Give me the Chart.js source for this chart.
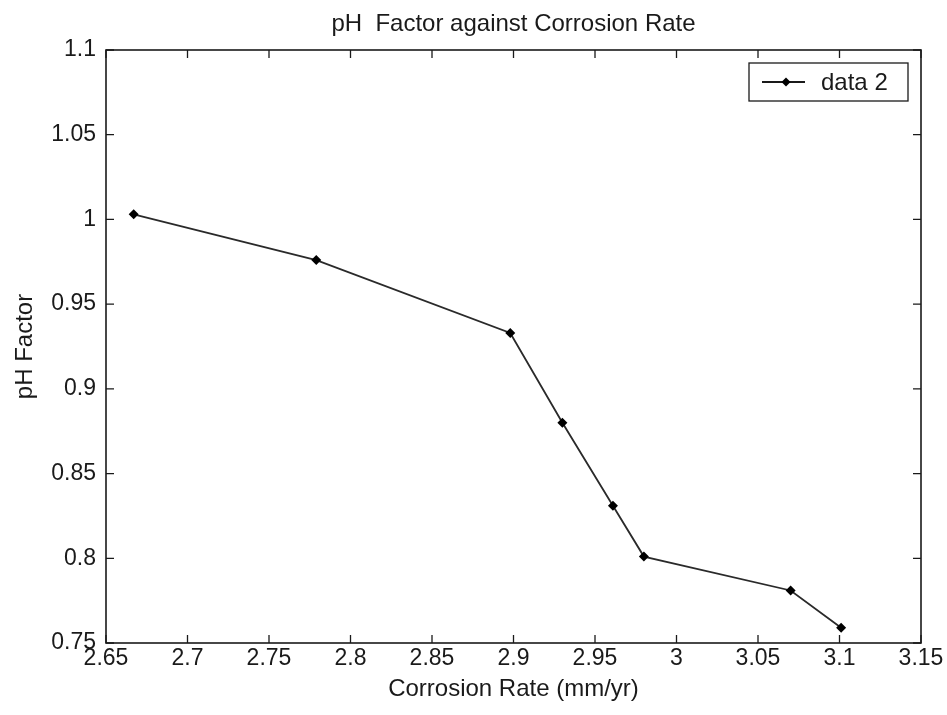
<!DOCTYPE html>
<html>
<head>
<meta charset="utf-8">
<script src="https://cdn.jsdelivr.net/npm/chart.js@4.4.1/dist/chart.umd.min.js"></script>
<style>
  html, body { margin: 0; padding: 0; background: #fff; }
  #wrap { width: 947px; height: 715px; }
</style>
</head>
<body>
<div id="wrap"><canvas id="c" width="947" height="715"></canvas></div>
<script>
// ---- data ----
const corrosionRate = [2.667, 2.779, 2.898, 2.930, 2.961, 2.980, 3.070, 3.101];
const phFactor      = [1.003, 0.976, 0.933, 0.880, 0.831, 0.801, 0.781, 0.759];
const seriesLabel = 'data 2';
const chartTitle = 'pH  Factor against Corrosion Rate';
const xTitle = 'Corrosion Rate (mm/yr)';
const yTitle = 'pH Factor';
const xTickValues = [2.65, 2.7, 2.75, 2.8, 2.85, 2.9, 2.95, 3, 3.05, 3.1, 3.15];
const yTickValues = [0.75, 0.8, 0.85, 0.9, 0.95, 1, 1.05, 1.1];

const FONT = "'Liberation Sans', Arial, sans-serif";
const INK = '#1a1a1a';

const fmt = v => String(Number(Number(v).toFixed(2)));

const frame = {
  id: 'frame',
  afterDraw(chart) {
    const ctx = chart.ctx, a = chart.chartArea;
    const xs = chart.scales.x, ys = chart.scales.y;
    ctx.save();
    // title centred over the plot area
    ctx.fillStyle = INK;
    ctx.font = '24px ' + FONT;
    ctx.textAlign = 'center';
    ctx.textBaseline = 'middle';
    ctx.fillText(chartTitle, (a.left + a.right) / 2, 24);

    ctx.strokeStyle = INK;
    ctx.lineWidth = 1.6;
    ctx.strokeRect(a.left, a.top, a.right - a.left, a.bottom - a.top);
    ctx.lineWidth = 1.3;
    const tl = 8;
    ctx.beginPath();
    xTickValues.forEach(v => {
      const px = xs.getPixelForValue(v);
      ctx.moveTo(px, a.bottom); ctx.lineTo(px, a.bottom - tl);
      ctx.moveTo(px, a.top); ctx.lineTo(px, a.top + tl);
    });
    yTickValues.forEach(v => {
      const py = ys.getPixelForValue(v);
      ctx.moveTo(a.left, py); ctx.lineTo(a.left + tl, py);
      ctx.moveTo(a.right, py); ctx.lineTo(a.right - tl, py);
    });
    ctx.stroke();

    // legend box (inside top-right)
    const bx = 749, by = 63, bw = 159, bh = 38;
    ctx.fillStyle = '#fff';
    ctx.fillRect(bx, by, bw, bh);
    ctx.lineWidth = 1.3;
    ctx.strokeStyle = INK;
    ctx.strokeRect(bx, by, bw, bh);
    const ly = by + bh / 2;
    ctx.lineWidth = 1.8;
    ctx.beginPath();
    ctx.moveTo(762, ly); ctx.lineTo(805, ly);
    ctx.stroke();
    ctx.fillStyle = '#000';
    ctx.beginPath();
    ctx.moveTo(786, ly - 4.5); ctx.lineTo(790.5, ly); ctx.lineTo(786, ly + 4.5); ctx.lineTo(781.5, ly);
    ctx.closePath(); ctx.fill();
    ctx.fillStyle = INK;
    ctx.font = '24px ' + FONT;
    ctx.textAlign = 'left';
    ctx.fillText(chart.data.datasets[0].label, 821, ly + 1);
    ctx.restore();
  }
};

new Chart(document.getElementById('c'), {
  type: 'line',
  data: {
    datasets: [{
      label: seriesLabel,
      data: corrosionRate.map((x, i) => ({ x: x, y: phFactor[i] })),
      borderColor: '#2a2a2a',
      borderWidth: 1.8,
      pointStyle: 'rectRot',
      pointRadius: 5,
      pointBackgroundColor: '#000',
      pointBorderColor: '#000',
      pointBorderWidth: 0,
      tension: 0,
      fill: false
    }]
  },
  options: {
    responsive: false,
    animation: false,
    devicePixelRatio: 1,
    layout: { padding: { left: 0, right: 26, top: 50, bottom: 0 } },
    plugins: {
      legend: { display: false },
      tooltip: { enabled: false },
      title: { display: false }
    },
    scales: {
      x: {
        type: 'linear',
        min: 2.65, max: 3.15,
        afterBuildTicks: s => { s.ticks = xTickValues.map(v => ({ value: v })); },
        afterFit: s => { s.height = 72; },
        grid: { display: false, drawTicks: false },
        border: { display: false },
        ticks: {
          color: INK,
          padding: 2,
          maxRotation: 0,
          autoSkip: false,
          font: { family: FONT, size: 23 },
          callback: v => fmt(v)
        },
        title: {
          display: true,
          text: xTitle,
          color: INK,
          font: { family: FONT, size: 24 },
          padding: { top: 0, bottom: 11 }
        }
      },
      y: {
        type: 'linear',
        min: 0.75, max: 1.1,
        afterBuildTicks: s => { s.ticks = yTickValues.map(v => ({ value: v })); },
        afterFit: s => { s.width = 106; },
        grid: { display: false, drawTicks: false },
        border: { display: false },
        ticks: {
          color: INK,
          padding: 10,
          autoSkip: false,
          font: { family: FONT, size: 23 },
          callback: v => fmt(v)
        },
        title: {
          display: true,
          text: yTitle,
          color: INK,
          font: { family: FONT, size: 24 },
          padding: { top: 11, bottom: 0 }
        }
      }
    }
  },
  plugins: [frame]
});
</script>
</body>
</html>
